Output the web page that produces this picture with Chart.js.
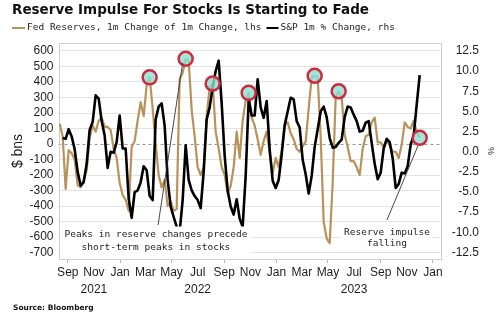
<!DOCTYPE html>
<html lang="en">
<head>
<meta charset="UTF-8">
<title>Reserve Impulse For Stocks Is Starting to Fade</title>
<script src="https://cdn.jsdelivr.net/npm/chart.js"></script>
<style>
  html, body { margin: 0; padding: 0; background: #fff; }
  canvas { display: block; }
</style>
</head>
<body>
<canvas id="chart" width="500" height="322"></canvas>
<script>
// weekly observations, first one on this date
const firstWeek = '2021-08-13';

// Fed reserves, 1m change of 1m change ($ bns, lhs)
const fedReserves = [
  130, 50, -290, -40, -60, -100, -265, -280, -230, -170,
  40, 120, 80, 150, 170, 110, 110, 90, -30, -90,
  -250, -330, -360, -430, -20, 20, 150, 270, 180, 380,
  430, 230, 0, -200, -280, -230, -400, -370, -430, -420,
  420, 460, 550, 540, 220, 50, -150, -200, -150, 180,
  370, 390, 80, -30, -150, -200, -320, -270, -150, 80,
  -90, 150, 280, 330, 170, 120, 30, -70, 20, 80,
  -60, -190, -90, -150, -40, 120, 140, 70, 30, -30,
  -50, -15, 15, 230, 430, 440, 430, 50, -500, -610,
  -640, -250, 300, 340, 300, 60, -20, -110, -110, -150,
  -200, -30, 50, 60, 140, 170, 10, 10, -20, 20,
  -10, -50, -50, -90, -5, 140, 110, 100, 150, 80,
  40
];

// S&P 500 1m % change (rhs)
const spxChange = [
  null, 1.7, 1.6, 2.8, 1.9, 0.3, -2.5, -4.2, -3.8, -1.5,
  2.7, 3.7, 7.0, 6.6, 3.8, 2.0, -2.0, 0.0, -0.1, 1.2,
  4.5, 0.4, 0.4, -5.8, -8.2, -5.0, -4.8, -3.8, -1.8, -2.3,
  -5.5, -6.0, 4.0, 5.6, 6.0, 3.2, -3.5, -6.8, -8.1, -9.3,
  -9.9, -6.0, 0.8, -3.5, -4.8, -5.5, -6.0, -7.0, -2.5, 4.0,
  5.5, 8.0, 10.0, 11.3, 6.0, -0.5, -4.8, -6.8, -7.8, -5.9,
  -8.3, -9.3, -3.0, 6.5, 4.5, 4.5, 9.0, 5.5, 4.2, 6.3,
  0.3, -3.6, -4.5, -3.5, -0.4, 3.3, 5.0, 6.7, 6.5, 3.8,
  3.0, -1.0, -2.8, -5.2, -3.0, 0.6, 2.8, 5.0, 5.6, 4.3,
  1.7, 0.5, 0.6, 1.1, 1.5, 4.3, 5.6, 5.5, 4.6, 3.8,
  2.5, 2.6, 3.6, 3.8, 1.1, -1.5, -3.4, -2.6, 0.4, 1.6,
  1.2, -0.8, -4.5, -4.0, -2.6, -2.7, -1.8, 0.9, 2.0, 5.8,
  9.5
];

// circled reserve peaks (week numbers)
const peakWeeks = [30, 42, 51, 63, 85, 93, 120];

const tickDates = ['2021-09-01', '2021-11-01', '2022-01-01', '2022-03-01', '2022-05-01', '2022-07-01',
  '2022-09-01', '2022-11-01', '2023-01-01', '2023-03-01', '2023-05-01', '2023-07-01',
  '2023-09-01', '2023-11-01', '2024-01-01'];
const tickMonths = ['Sep', 'Nov', 'Jan', 'Mar', 'May', 'Jul', 'Sep', 'Nov', 'Jan', 'Mar', 'May', 'Jul', 'Sep', 'Nov', 'Jan'];
const tickYears = ['', '2021', '', '', '', '2022', '', '', '', '', '', '2023', '', '', ''];
const leftTicks = [600, 500, 400, 300, 200, 100, 0, -100, -200, -300, -400, -500, -600, -700];
const rightTicks = [12.5, 10, 7.5, 5, 2.5, 0, -2.5, -5, -7.5, -10, -12.5];

const GOLD = '#b8925a';
const TEXT = '#1e1e1e';
const AXIS_FONT = { family: 'Liberation Sans', size: 12, lineHeight: 1.35 };
const Y_FONT = { family: 'Liberation Sans', size: 12, lineHeight: 1.1 };
const MONO = '"DejaVu Sans Mono", monospace';

// annotations in data units (week, $ bns)
const notes = [
  { lines: ['Peaks in reserve changes precede', 'short-term peaks in stocks'], week: 32.1, value: -587, gap: 13,
    from: [32.8, -523], to: [41, 523] },
  { lines: ['Reserve impulse', 'falling'], week: 109.1, value: -568, gap: 11.5,
    from: [109.1, -490], to: [119.4, -13] }
];

const DAY = 86400000;
const origin = Date.UTC(2021, 8, 1);
function dayOf(s) {
  const [y, m, d] = s.split('-').map(Number);
  return (Date.UTC(y, m - 1, d) - origin) / DAY;
}
const day0 = dayOf(firstWeek);
const weekX = k => day0 + 7 * k;

function fitFont(ctx, text, weight, size, family, maxW) {
  let s = size;
  ctx.font = weight + ' ' + s + 'px ' + family;
  while (ctx.measureText(text).width > maxW && s > 6) {
    s -= 0.25;
    ctx.font = weight + ' ' + s + 'px ' + family;
  }
}

const decor = {
  id: 'decor',
  beforeDatasetsDraw(chart) {
    const { ctx, chartArea: a, scales } = chart;
    ctx.save();
    // zero line
    const y0 = Math.round(scales.y.getPixelForValue(0)) + 0.5;
    ctx.strokeStyle = '#999';
    ctx.lineWidth = 1;
    ctx.setLineDash([3, 3]);
    ctx.beginPath();
    ctx.moveTo(a.left, y0);
    ctx.lineTo(a.right, y0);
    ctx.stroke();
    ctx.setLineDash([]);
    // plot frame
    ctx.strokeStyle = '#cfcfcf';
    ctx.strokeRect(Math.round(a.left) + 0.5, Math.round(a.top) + 0.5, Math.round(a.right - a.left), Math.round(a.bottom - a.top));
    ctx.restore();
  },
  afterDatasetsDraw(chart) {
    const { ctx, scales } = chart;
    const px = w => scales.x.getPixelForValue(weekX(w));
    const py = v => scales.y.getPixelForValue(v);
    ctx.save();
    ctx.font = '9.5px ' + MONO;
    notes.forEach(n => {
      const cx = px(n.week);
      const cy = py(n.value);
      const w = Math.max(...n.lines.map(l => ctx.measureText(l).width)) + 6;
      const h = n.lines.length * n.gap + 4;
      ctx.fillStyle = '#fff';
      ctx.fillRect(cx - w / 2, cy - n.gap / 2 - 2, w, h);
      ctx.strokeStyle = '#333';
      ctx.lineWidth = 0.9;
      ctx.beginPath();
      ctx.moveTo(px(n.from[0]), py(n.from[1]));
      ctx.lineTo(px(n.to[0]), py(n.to[1]));
      ctx.stroke();
      ctx.fillStyle = TEXT;
      ctx.textAlign = 'center';
      ctx.textBaseline = 'middle';
      n.lines.forEach((l, i) => ctx.fillText(l, cx, cy + i * n.gap));
    });
    ctx.restore();
  },
  afterDraw(chart) {
    const { ctx } = chart;
    ctx.save();
    ctx.fillStyle = '#111';
    ctx.textBaseline = 'middle';
    ctx.textAlign = 'left';
    const title = 'Reserve Impulse For Stocks Is Starting to Fade';
    fitFont(ctx, title, 'bold', 14.5, '"DejaVu Sans"', 358);
    ctx.fillText(title, 12, 10.5);

    // legend
    ctx.font = '9.5px ' + MONO;
    const t1 = 'Fed Reserves, 1m Change of 1m Change, lhs';
    const t2 = 'S&P 1m % Change, rhs';
    ctx.lineWidth = 2;
    ctx.strokeStyle = GOLD;
    ctx.beginPath(); ctx.moveTo(12, 28); ctx.lineTo(25, 28); ctx.stroke();
    ctx.fillStyle = TEXT;
    ctx.fillText(t1, 27, 28);
    const x2 = 27 + ctx.measureText(t1).width + 5;
    ctx.strokeStyle = '#000';
    ctx.beginPath(); ctx.moveTo(x2, 28); ctx.lineTo(x2 + 12, 28); ctx.stroke();
    ctx.fillText(t2, x2 + 14, 28);

    // source
    const src = 'Source: Bloomberg';
    fitFont(ctx, src, 'bold', 9, '"DejaVu Sans"', 83);
    ctx.fillStyle = '#111';
    ctx.fillText(src, 13, 308);

    // right axis unit
    ctx.translate(490, 151);
    ctx.rotate(Math.PI / 2);
    ctx.font = '9px "Liberation Sans"';
    ctx.textAlign = 'center';
    ctx.fillStyle = TEXT;
    ctx.fillText('%', 0, 0);
    ctx.restore();
  }
};

new Chart(document.getElementById('chart'), {
  type: 'line',
  data: {
    datasets: [
      {
        label: 'peaks',
        type: 'scatter',
        data: peakWeeks.map(k => ({ x: weekX(k), y: fedReserves[k] })),
        yAxisID: 'y',
        pointRadius: 7,
        pointBorderWidth: 2.5,
        pointBorderColor: '#d0283c',
        pointBackgroundColor: 'rgba(140, 222, 210, 0.8)',
        showLine: false,
        order: 0
      },
      {
        label: 'S&P 1m % Change, rhs',
        data: spxChange.map((v, k) => ({ x: weekX(k), y: v })),
        yAxisID: 'y1',
        borderColor: '#000',
        borderWidth: 2.6,
        borderJoinStyle: 'round',
        pointRadius: 0,
        order: 1
      },
      {
        label: 'Fed Reserves, 1m Change of 1m Change, lhs',
        data: fedReserves.map((v, k) => ({ x: weekX(k), y: v })),
        yAxisID: 'y',
        borderColor: GOLD,
        borderWidth: 2.2,
        borderJoinStyle: 'round',
        pointRadius: 0,
        order: 2
      }
    ]
  },
  options: {
    responsive: false,
    devicePixelRatio: 1,
    animation: false,
    layout: { padding: { top: 43, right: 21, left: 0, bottom: 0 } },
    plugins: { legend: { display: false }, tooltip: { enabled: false } },
    scales: {
      x: {
        type: 'linear',
        min: -21.7,
        max: 868.4,
        afterBuildTicks: s => { s.ticks = tickDates.map(d => ({ value: dayOf(d) })); },
        afterFit: s => { s.height = 63; },
        ticks: {
          autoSkip: false,
          maxRotation: 0,
          padding: 2,
          color: TEXT,
          font: AXIS_FONT,
          callback: (v, i) => [tickMonths[i], tickYears[i]]
        },
        grid: {
          drawOnChartArea: false,
          tickLength: 4,
          color: c => (c.index % 2 === 0 ? '#b5b5b5' : 'rgba(0,0,0,0)')
        },
        border: { display: false }
      },
      y: {
        position: 'left',
        min: -741.9,
        max: 651.6,
        afterBuildTicks: s => { s.ticks = leftTicks.map(v => ({ value: v })); },
        afterFit: s => { s.width = 58.5; },
        ticks: { autoSkip: false, padding: 5, color: TEXT, font: Y_FONT },
        grid: {
          drawTicks: false,
          color: c => (c.tick && c.tick.value === 0 ? 'rgba(0,0,0,0)' : '#e3e3e3')
        },
        border: { display: false },
        title: {
          display: true,
          text: '$ bns',
          color: TEXT,
          font: { family: 'Liberation Sans', size: 14 },
          padding: { top: 10, bottom: 0 }
        }
      },
      y1: {
        position: 'right',
        min: -13.31,
        max: 13.49,
        afterBuildTicks: s => { s.ticks = rightTicks.map(v => ({ value: v })); },
        afterFit: s => { s.width = 39; },
        ticks: {
          autoSkip: false,
          crossAlign: 'far',
          color: TEXT,
          font: Y_FONT,
          callback: v => v.toFixed(1)
        },
        grid: { drawOnChartArea: false, drawTicks: false },
        border: { display: false }
      }
    }
  },
  plugins: [decor]
});
</script>
</body>
</html>
